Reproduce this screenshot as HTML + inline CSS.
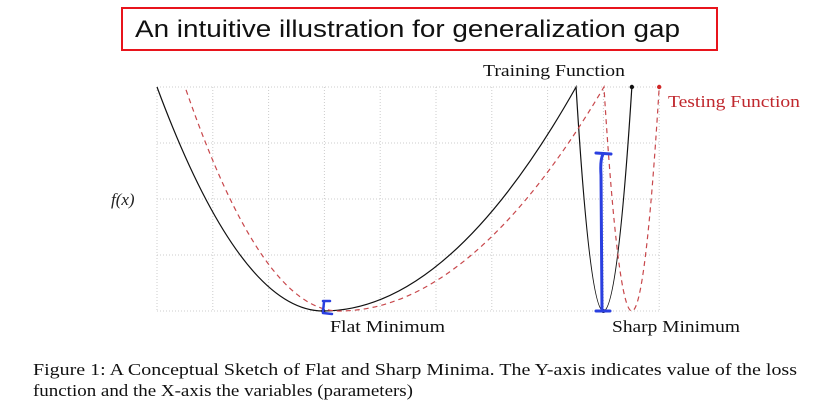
<!DOCTYPE html>
<html><head><meta charset="utf-8"><style>
html,body{margin:0;padding:0;background:#fff;width:833px;height:415px;overflow:hidden}
svg{display:block}
</style></head><body>
<svg id="chart" width="833" height="415" viewBox="0 0 833 415">
<rect x="122" y="8" width="595" height="42" fill="#fff" stroke="#e8141c" stroke-width="2"/>
<text x="135" y="37" font-family="Liberation Sans, sans-serif" font-size="24" fill="#111" textLength="545" lengthAdjust="spacingAndGlyphs">An intuitive illustration for generalization gap</text>
<g id="grid"></g>
<g id="series"></g>
<text x="483" y="76" font-family="Liberation Serif, serif" font-size="17" fill="#111" textLength="142" lengthAdjust="spacingAndGlyphs">Training Function</text>
<text x="668" y="107" font-family="Liberation Serif, serif" font-size="17" fill="#c0282e" textLength="132" lengthAdjust="spacingAndGlyphs">Testing Function</text>
<text x="111" y="205" font-family="Liberation Serif, serif" font-style="italic" font-size="17" fill="#222">f(x)</text>
<text x="330" y="332" font-family="Liberation Serif, serif" font-size="17" fill="#111" textLength="115" lengthAdjust="spacingAndGlyphs">Flat Minimum</text>
<text x="612" y="332" font-family="Liberation Serif, serif" font-size="17" fill="#111" textLength="128" lengthAdjust="spacingAndGlyphs">Sharp Minimum</text>
<text x="33" y="375" font-family="Liberation Serif, serif" font-size="17" fill="#111" textLength="764" lengthAdjust="spacingAndGlyphs">Figure 1: A Conceptual Sketch of Flat and Sharp Minima. The Y-axis indicates value of the loss</text>
<text x="33" y="396" font-family="Liberation Serif, serif" font-size="17" fill="#111" textLength="380" lengthAdjust="spacingAndGlyphs">function and the X-axis the variables (parameters)</text>
</svg>
<script>
// data in grid units (x: 0..9, y: 0..4): extrema of each function (peaks and minima)
const trainX = [0, 2.98, 7.51, 8.0, 8.51];
const trainY = [4, 0, 4, 0, 4];
const testX = [0.52, 3.26, 8.01, 8.51, 9];
const testY = [3.95, 0, 4, 0, 4];
const gridXTicks = [0,1,2,3,4,5,6,7,8,9];
const gridYTicks = [0,1,2,3,4];

const NS = "http://www.w3.org/2000/svg";
const sx = v => 157 + v * 55.8;
const sy = v => 311 - v * 56;
function mk(tag, attrs, parent){const e=document.createElementNS(NS,tag);for(const k in attrs)e.setAttribute(k,attrs[k]);parent.appendChild(e);return e;}
// each segment between a peak and a minimum is a half-parabola with vertex at the minimum
function pathFrom(xs, ys){
  let d = `M${sx(xs[0])},${sy(ys[0])}`;
  for(let i=0;i<xs.length-1;i++){
    const x0=sx(xs[i]), y0=sy(ys[i]), x1=sx(xs[i+1]), y1=sy(ys[i+1]);
    let cx, cy;
    if(ys[i] > ys[i+1]){ cx=(x0+x1)/2; cy=y1; }   // descending to vertex
    else { cx=(x0+x1)/2; cy=y0; }                // ascending from vertex
    d += ` Q${cx},${cy} ${x1},${y1}`;
  }
  return d;
}
const grid = document.getElementById('grid');
gridXTicks.forEach(t=>{
  const l = mk('line',{x1:sx(t),x2:sx(t),y1:sy(4),y2:sy(0),stroke:'#ccc','stroke-width':1,'stroke-dasharray':'1 2'},grid);
  
  
});
gridYTicks.forEach(t=>{
  const l = mk('line',{x1:sx(0),x2:sx(9),y1:sy(t),y2:sy(t),stroke:'#ccc','stroke-width':1,'stroke-dasharray':'1 2'},grid);
  
  
});
const s = document.getElementById('series');
const p1 = mk('path',{d:pathFrom(trainX,trainY),fill:'none',stroke:'#111','stroke-width':1.2},s);


const p2 = mk('path',{d:pathFrom(testX,testY),fill:'none',stroke:'#c8484c','stroke-width':1.2,'stroke-dasharray':'5 4'},s);


const d1 = mk('circle',{cx:sx(trainX[4]),cy:sy(trainY[4]),r:2.2,fill:'#111'},s);


const d2 = mk('circle',{cx:sx(testX[4]),cy:sy(testY[4]),r:2.2,fill:'#d02828'},s);


const d3 = mk('circle',{cx:sx(trainX[1]),cy:sy(trainY[1]),r:2,fill:'#111'},s);


const d4 = mk('circle',{cx:sx(trainX[3]),cy:sy(trainY[3]),r:2,fill:'#111'},s);


// blue annotations
const b1 = mk('path',{d:'M596,153 L611,154 M603,154 Q600,160 601,175 L602,311 M596,311 L610,311',fill:'none',stroke:'#2a3fe0','stroke-width':3,'stroke-linecap':'round'},s);


const b2 = mk('path',{d:'M323,301 L330,301 M324,302 L323,312 M323,313 L332,314',fill:'none',stroke:'#2a3fe0','stroke-width':2.5,'stroke-linecap':'round'},s);


</script>
</body></html>
